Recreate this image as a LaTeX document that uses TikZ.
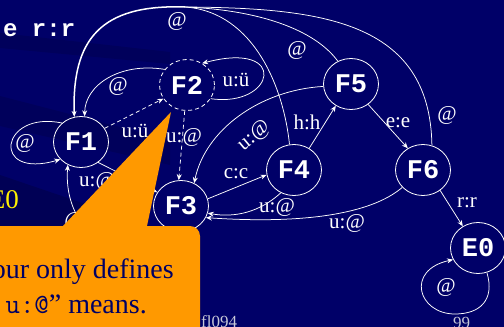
\documentclass[tikz,border=0pt]{standalone}
\usepackage{fontspec}
\setmainfont{Liberation Serif}
\setmonofont{Liberation Mono}
\newfontfamily\calloutmono{Latin Modern Mono}
\usetikzlibrary{arrows.meta,shapes.geometric}
\definecolor{bg}{RGB}{0,0,104}
\definecolor{callout}{RGB}{255,153,0}
\definecolor{navytext}{RGB}{0,0,100}
\definecolor{footgray}{RGB}{200,200,215}
\begin{document}
\begin{tikzpicture}[x=1pt,y=-1pt,
  state/.style={draw=white, line width=0.8pt, ellipse, inner sep=0pt,
    minimum width=55pt, minimum height=51pt, text=white,
    font=\fontsize{27}{27}\selectfont\ttfamily\bfseries},
  edge/.style={draw=white, line width=0.75pt, -{Stealth[length=6pt,width=5pt]}},
  plain/.style={draw=white, line width=0.75pt},
  dedge/.style={edge, dash pattern=on 4pt off 3pt},
  lbl/.style={text=white, inner sep=0pt, font=\fontsize{21}{21}\selectfont},
  calltext/.style={anchor=base east, inner sep=0pt, text=navytext,
    font=\fontsize{28}{28}\selectfont},
]
\fill[bg] (0,0) rectangle (504,327);
\useasboundingbox (0,0) rectangle (504,327);
% subtle darker bands
\fill[black, opacity=0.12] (0,33) -- (170,52) -- (170,64) -- (0,48) -- cycle;
\fill[black, opacity=0.12] (0,96) -- (170,140) -- (170,165) -- (0,126) -- cycle;
\fill[black, opacity=0.18] (0,175) -- (150,226) -- (0,226) -- cycle;

% states
\node[state] (F1) at (81,142) {F1};
\node[state, dash pattern=on 4pt off 3pt] (F2) at (187,85) {F2};
\node[state] (F3) at (181,206) {F3};
\node[state] (F4) at (294,170) {F4};
\node[state] (F5) at (351,84) {F5};
\node[state] (F6) at (423,170) {F6};
\node[state] (E0) at (478,248) {E0};

% shared junction of the @ arcs back to F1
\coordinate (J) at (185,7);

% edges
\draw[edge] (F1.135) .. controls (0,110) and (-10,180) .. (F1.220);
\draw[edge] (F2.145) .. controls (120,62) and (85,85) .. (F1.82);
\draw[plain] (F4.100) .. controls (284,90) and (255,12) .. (J);
\draw[plain] (F5.120) .. controls (315,30) and (260,10) .. (J);
\draw[plain] (F6.70) .. controls (430,20) and (320,8) .. (J);
\draw[edge, line width=1.5pt] (J) .. controls (100,4) and (72,40) .. (F1.105);
\draw[edge] (F2.330) .. controls (275,108) and (290,40) .. (F2.55);
\draw[dedge] (F1.30) -- (F2.210);
\draw[dedge] (F2.265) -- (F3.95);
\draw[edge] (F1.310) -- (F3.150);
\draw[edge] (F3.290) .. controls (210,290) and (60,270) .. (F1.240);
\draw[edge] (F3.15) -- (F4.190);
\draw[edge] (F4.240) .. controls (260,212) and (235,218) .. (F3.345);
\draw[edge] (F6.220) .. controls (370,215) and (300,224) .. (F3.335);
\draw[edge] (F5.185) .. controls (260,90) and (205,130) .. (F3.60);
\draw[edge] (F4.55) -- (F5.235);
\draw[edge] (F5.310) -- (F6.125);
\draw[edge] (F6.310) -- (E0.125);
\draw[edge] (E0.290) .. controls (495,300) and (480,314) .. (455,314)
  .. controls (418,314) and (405,270) .. (E0.205);

% edge labels
\node[lbl] (l1) at (25,143) {@};
\node[lbl] (l2) at (118,86) {@};
\node[lbl] (l3) at (177,21) {@};
\node[lbl] (l4) at (297,50) {@};
\node[lbl] (l5) at (447,115) {@};
\node[lbl] (l6) at (236,80) {u:ü};
\node[lbl] (l7) at (135,131) {u:ü};
\node[lbl] (l8) at (184,137) {u:@};
\node[lbl, anchor=west] (l9) at (79,181) {u:@};
\node[lbl] (l10) at (74,221) {@};
\node[lbl] (l11) at (236,174) {c:c};
\node[lbl] (l12) at (277,207) {u:@};
\node[lbl] (l13) at (347,223) {u:@};
\node[lbl, rotate=40] (l14) at (254,136) {u:@};
\node[lbl] (l15) at (307,122) {h:h};
\node[lbl] (l16) at (398,123) {e:e};
\node[lbl] (l17) at (467,203) {r:r};
\node[lbl] (l18) at (446,287) {@};

% slide fragments
\node[anchor=base west, inner sep=0pt, text=white,
  font=\fontsize{24}{24}\selectfont\ttfamily\bfseries] (toptext) at (3,36) {e r:r};
\node[anchor=base east, inner sep=0pt, text=yellow,
  font=\fontsize{27}{27}\selectfont] (yellowtext) at (19,208) {E0};
\node[anchor=base west, inner sep=0pt, text=footgray,
  font=\fontsize{17}{17}\selectfont] (foot) at (201,327) {fl094};
\node[anchor=base west, inner sep=0pt, text=footgray,
  font=\fontsize{17}{17}\selectfont] (page) at (453,328) {99};

% callout
\fill[callout] (-5,226) -- (63,226) -- (171,112) -- (147,226) -- (180,226)
  [rounded corners=10pt] -- (200,226) -- (200,260) [sharp corners] -- (200,335)
  -- (-5,335) -- cycle;
\node[calltext] (c1) at (174,278) {our only defines};
\node[calltext] (c2) at (147,313) {{\calloutmono u:@}” means.};
\end{tikzpicture}
\end{document}
